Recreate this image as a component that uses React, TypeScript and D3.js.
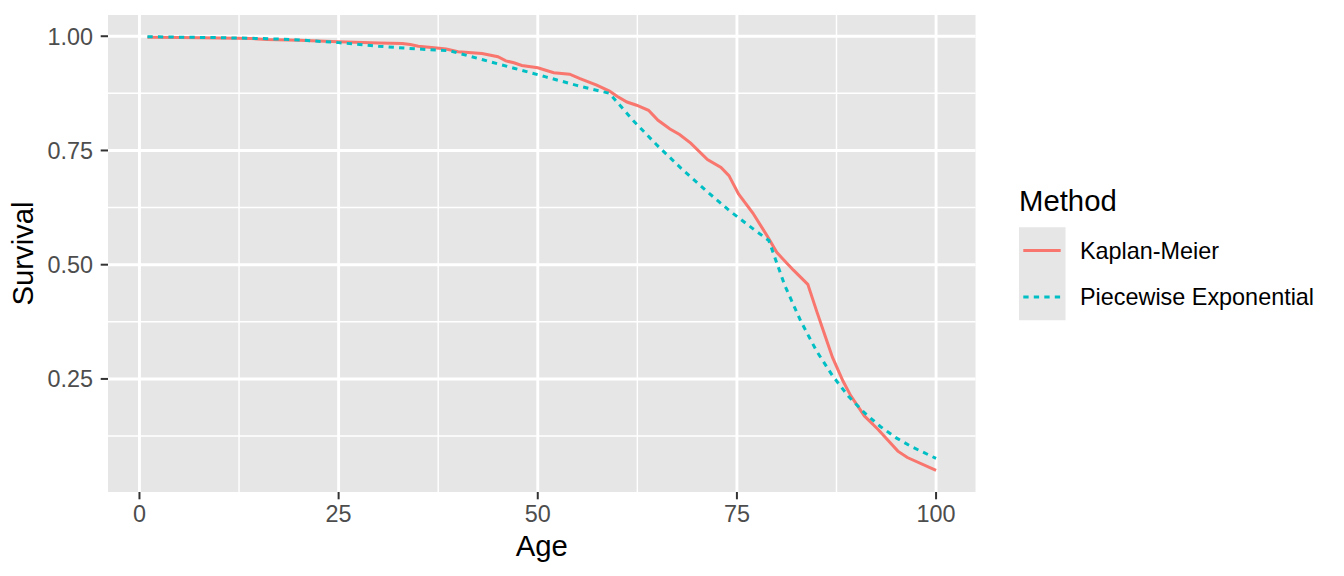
import React from "react";
import * as d3 from "d3";

const kmAge = [1, 5, 10, 14, 16, 20, 25, 30, 33, 34, 35, 37, 38.5, 40, 43, 45, 46, 47, 48, 50, 52, 54, 55.3, 57.4, 59, 60, 61.2, 62.4, 63.9, 65.1, 66.6, 67.8, 69.2, 71.3, 73, 74, 75.2, 77, 78.9, 80, 80.8, 82.1, 83.9, 85, 85.7, 87, 88.3, 89.3, 91, 92.7, 95.2, 96.4, 100];
const kmSurv = [0.998, 0.997, 0.996, 0.995, 0.993, 0.991, 0.988, 0.985, 0.984, 0.982, 0.978, 0.975, 0.972, 0.966, 0.962, 0.955, 0.946, 0.942, 0.936, 0.931, 0.92, 0.917, 0.907, 0.893, 0.88, 0.868, 0.856, 0.849, 0.838, 0.816, 0.797, 0.785, 0.766, 0.73, 0.713, 0.695, 0.655, 0.613, 0.56, 0.527, 0.512, 0.488, 0.457, 0.399, 0.363, 0.297, 0.246, 0.213, 0.169, 0.14, 0.092, 0.078, 0.05];

const peAge = [1, 5, 10, 15, 19, 25, 30, 35, 39, 43, 47, 51, 55, 59, 62, 65, 68, 71, 74, 77, 79, 81, 83, 85, 87, 89, 91, 93, 95, 97, 100];
const peSurv = [0.999, 0.998, 0.997, 0.995, 0.993, 0.986, 0.978, 0.972, 0.968, 0.949, 0.93, 0.911, 0.892, 0.875, 0.815, 0.761, 0.711, 0.664, 0.619, 0.579, 0.553, 0.455, 0.377, 0.311, 0.257, 0.212, 0.176, 0.146, 0.121, 0.101, 0.076];

const xTicks = [0, 25, 50, 75, 100];
const xMinor = [12.5, 37.5, 62.5, 87.5];
const yTicks = [0.25, 0.5, 0.75, 1.0];
const yMinor = [0.125, 0.375, 0.625, 0.875];
const yTickLabels = ["0.25", "0.50", "0.75", "1.00"];

const methods = ["Kaplan-Meier", "Piecewise Exponential"];
const colors = ["#F8766D", "#00BFC4"];
const dashes = ["none", "5.3,5.2"];

const W = 1344;
const H = 576;
const P = { left: 108, right: 975.5, top: 15, bottom: 492 };
const FONT = "'Liberation Sans', Arial, Helvetica, sans-serif";
const PANEL_BG = "#E6E6E6";

export default function App() {
  const allAge = [...kmAge, ...peAge];
  const allSurv = [...kmSurv, ...peSurv];
  const [xa, xb] = d3.extent(allAge) as [number, number];
  const [ya, yb] = d3.extent(allSurv) as [number, number];
  const xe = (xb - xa) * 0.05;
  const ye = (yb - ya) * 0.05;
  const x = d3.scaleLinear().domain([xa - xe, xb + xe]).range([P.left, P.right]);
  const y = d3.scaleLinear().domain([ya - ye, yb + ye]).range([P.bottom, P.top]);

  const line = d3
    .line<[number, number]>()
    .x((d) => x(d[0]))
    .y((d) => y(d[1]));

  const series: [number, number][][] = [
    kmAge.map((a, i) => [a, kmSurv[i]] as [number, number]),
    peAge.map((a, i) => [a, peSurv[i]] as [number, number]),
  ];

  const tickFs = 23.4;
  const titleFs = 29.3;
  const keyH = 46.5;
  const keyTop = 227.25;

  return (
    <svg
      width={W}
      height={H}
      style={{ position: "absolute", left: 0, top: 0, background: "white" }}
      fontFamily={FONT}
    >
      <rect x={0} y={0} width={W} height={H} fill="white" />
      <rect x={P.left} y={P.top} width={P.right - P.left} height={P.bottom - P.top} fill={PANEL_BG} />
      {yMinor.map((v) => (
        <line key={"ym" + v} x1={P.left} x2={P.right} y1={y(v)} y2={y(v)} stroke="white" strokeWidth={1.45} />
      ))}
      {xMinor.map((v) => (
        <line key={"xm" + v} y1={P.top} y2={P.bottom} x1={x(v)} x2={x(v)} stroke="white" strokeWidth={1.45} />
      ))}
      {yTicks.map((v) => (
        <line key={"yM" + v} x1={P.left} x2={P.right} y1={y(v)} y2={y(v)} stroke="white" strokeWidth={2.9} />
      ))}
      {xTicks.map((v) => (
        <line key={"xM" + v} y1={P.top} y2={P.bottom} x1={x(v)} x2={x(v)} stroke="white" strokeWidth={2.9} />
      ))}

      {series.map((s, i) => (
        <path
          key={methods[i]}
          d={line(s) || ""}
          fill="none"
          stroke={colors[i]}
          strokeWidth={3}
          strokeDasharray={dashes[i]}
        />
      ))}

      {yTicks.map((v, i) => (
        <g key={"yt" + v}>
          <line x1={P.left - 7.3} x2={P.left} y1={y(v)} y2={y(v)} stroke="#333333" strokeWidth={2} />
          <text x={P.left - 15} y={y(v) + 8.4} textAnchor="end" fontSize={tickFs} fill="#4D4D4D">
            {yTickLabels[i]}
          </text>
        </g>
      ))}
      {xTicks.map((v) => (
        <g key={"xt" + v}>
          <line x1={x(v)} x2={x(v)} y1={P.bottom} y2={P.bottom + 7.3} stroke="#333333" strokeWidth={2} />
          <text x={x(v)} y={522} textAnchor="middle" fontSize={tickFs} fill="#4D4D4D">
            {String(v)}
          </text>
        </g>
      ))}

      <text x={(P.left + P.right) / 2} y={556} textAnchor="middle" fontSize={titleFs} fill="black">
        Age
      </text>
      <text
        transform={`translate(33, ${(P.top + P.bottom) / 2}) rotate(-90)`}
        textAnchor="middle"
        fontSize={titleFs}
        fill="black"
      >
        Survival
      </text>

      <text x={1019} y={211} fontSize={titleFs} fill="black">
        Method
      </text>
      <rect x={1019} y={keyTop} width={46.5} height={keyH * methods.length} fill={PANEL_BG} />
      {methods.map((m, i) => {
        const cy = keyTop + keyH / 2 + i * keyH;
        return (
          <g key={"lg" + m}>
            <line
              x1={1023.3}
              x2={1060.7}
              y1={cy}
              y2={cy}
              stroke={colors[i]}
              strokeWidth={3}
              strokeDasharray={dashes[i]}
            />
            <text x={1080} y={cy + 8.4} fontSize={tickFs} fill="black">
              {m}
            </text>
          </g>
        );
      })}
    </svg>
  );
}
